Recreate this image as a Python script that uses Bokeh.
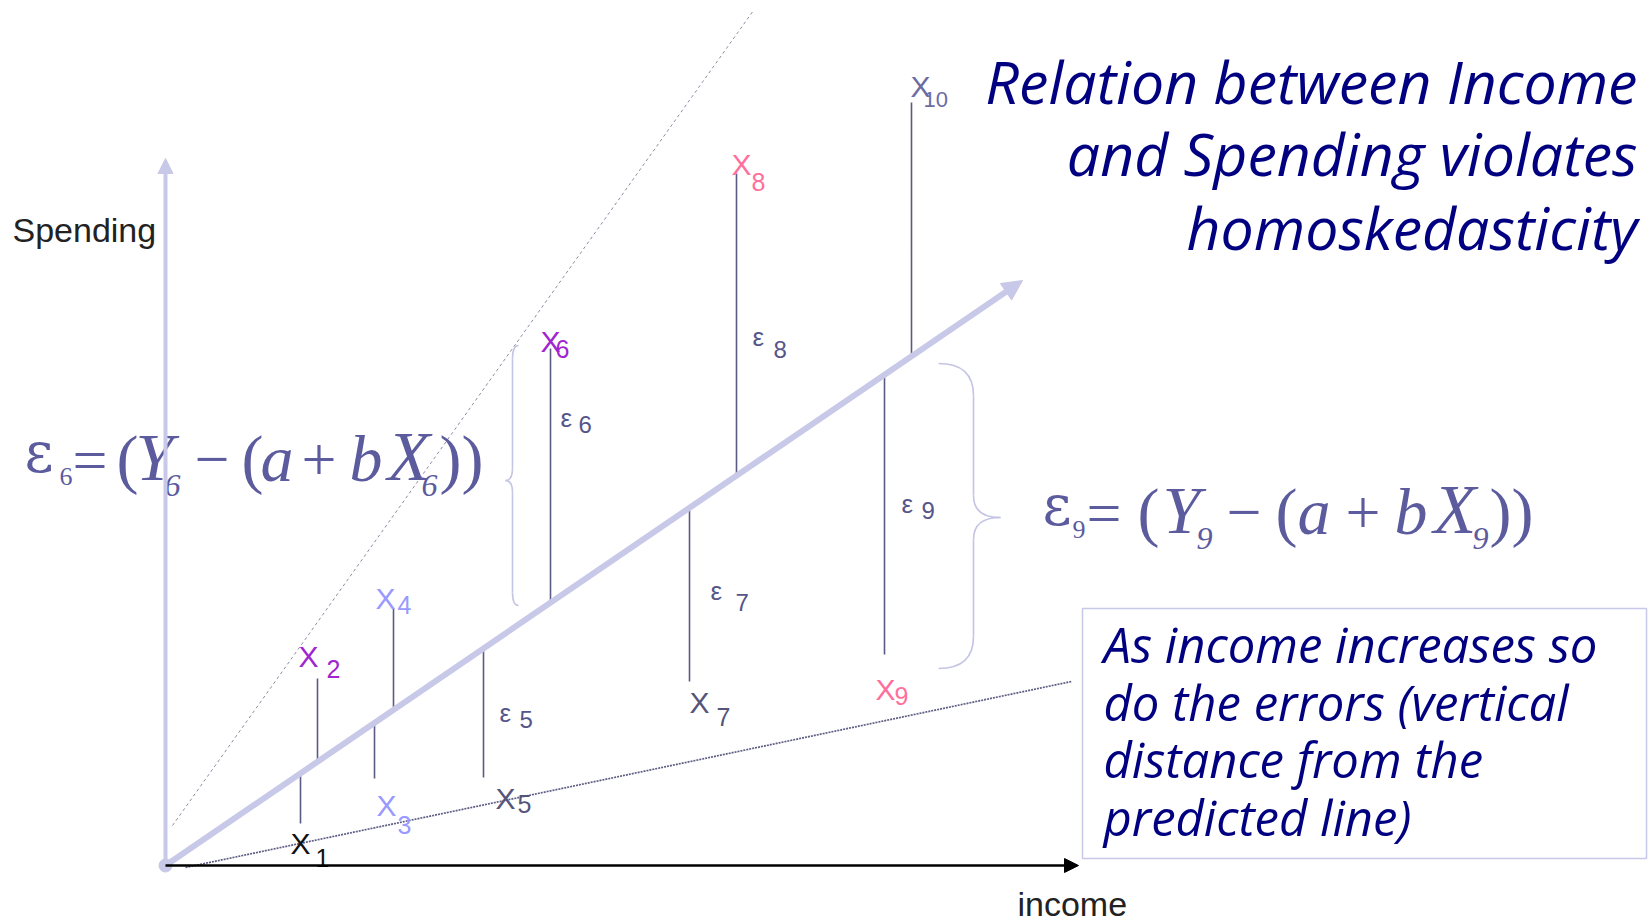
from bokeh.plotting import figure
from bokeh.models import Range1d, Arrow, NormalHead, ColumnDataSource
from bokeh.embed import file_html
from bokeh.resources import INLINE

# ---------------- data (diagram units: income / spending) ----------------
point_labels = ["1", "2", "3", "4", "5", "6", "7", "8", "9", "10"]
income = [135, 152, 209, 228, 318, 385, 524, 571, 719, 746]
spending = [42, 187, 87, 257, 88, 517, 184, 692, 211, 763]
intercept_a = 0.0
slope_b = 0.6826
fit_income_max = 857
upper_env_income = [7, 588]
upper_env_spending = [40, 855]
lower_env_income = [20, 906]
lower_env_spending = [-2, 184]
income_axis_max = 913
spending_axis_max = 707
eps_labels = ["5", "6", "7", "8", "9"]

predicted = [intercept_a + slope_b * v for v in income]

# ---------------- layout helpers (page pixels -> diagram units) ----------------
OX, OY = 165, 865
W, H = 1649, 924


def px(x):
    return x - OX


def py(y):
    return OY - y


p = figure(width=W, height=H, output_backend="svg", toolbar_location=None,
           x_range=Range1d(px(0), px(W)), y_range=Range1d(py(H), py(0)),
           x_axis_type=None, y_axis_type=None, min_border=0)
p.grid.visible = False
p.outline_line_color = None
p.background_fill_color = "white"
p.border_fill_color = "white"

LAV = "#c8c8e8"
SEG = "#5a5a82"

# envelope lines
p.line(upper_env_income, upper_env_spending, line_color="#8c8ca4", line_width=1,
       line_dash="3 3")
p.line(lower_env_income, lower_env_spending, line_color="#5e5e84", line_width=1.7,
       line_dash="2 1")

# regression line with arrow
p.add_layout(Arrow(end=NormalHead(size=20, fill_color=LAV, line_color=LAV),
                   x_start=0, y_start=intercept_a, x_end=fit_income_max,
                   y_end=intercept_a + slope_b * fit_income_max,
                   line_color=LAV, line_width=6))

# axes
p.add_layout(Arrow(end=NormalHead(size=15, fill_color=LAV, line_color=LAV),
                   x_start=0, y_start=0, x_end=0, y_end=spending_axis_max,
                   line_color=LAV, line_width=4))
p.add_layout(Arrow(end=NormalHead(size=14, fill_color="black", line_color="black"),
                   x_start=0, y_start=0, x_end=income_axis_max, y_end=0,
                   line_color="black", line_width=2.5))
p.scatter([0], [0], size=13, color=LAV)

# error segments
p.segment(x0=income, y0=predicted, x1=income, y1=spending, line_color=SEG,
          line_width=1.6)

# braces
BR = "#c4c4e4"
quads = [
    ((518, 345), (512, 358), (512, 345)),
    ((512, 468), (505, 480), (512, 480)),
    ((505, 480), (512, 492), (512, 480)),
    ((512, 592), (518, 605), (512, 605)),
    ((938, 363), (973, 395), (973, 363)),
    ((973, 495), (1000, 517), (973, 517)),
    ((1000, 517), (973, 539), (973, 517)),
    ((973, 636), (938, 668), (973, 668)),
]
p.quadratic(x0=[px(a[0]) for a, b, c in quads], y0=[py(a[1]) for a, b, c in quads],
            x1=[px(b[0]) for a, b, c in quads], y1=[py(b[1]) for a, b, c in quads],
            cx=[px(c[0]) for a, b, c in quads], cy=[py(c[1]) for a, b, c in quads],
            line_color=BR, line_width=1.6)
segs = [((512, 358), (512, 468)), ((512, 492), (512, 592)),
        ((973, 395), (973, 495)), ((973, 539), (973, 636))]
p.segment(x0=[px(a[0]) for a, b in segs], y0=[py(a[1]) for a, b in segs],
          x1=[px(b[0]) for a, b in segs], y1=[py(b[1]) for a, b in segs],
          line_color=BR, line_width=1.6)

# text box
p.quad(left=px(1082), right=px(1646), top=py(608), bottom=py(858),
       fill_color=None, line_color=LAV, line_width=1.5)

# ---------------- texts ----------------
T = dict(x=[], y=[], text=[], size=[], color=[], font=[], style=[], align=[])
# empirical correction of the rendered baseline (fraction of font size)
KSHIFT = {"Liberation Sans": 0.35, "Liberation Serif": 0.40,
          "DejaVu Serif": 0.40, "Open Sans": 0.45}


def put(x, y, s, size, color, font="Liberation Sans", style="normal", align="left"):
    T["x"].append(px(x))
    T["y"].append(py(y - KSHIFT[font] * size))
    T["text"].append(s)
    T["size"].append(f"{size}px")
    T["color"].append(color)
    T["font"].append(font)
    T["style"].append(style)
    T["align"].append(align)


# point labels: (X left, X baseline, sub left, sub baseline)
label_pos = [(290, 853, 315, 866), (298, 666, 326, 677), (376, 815, 397, 833),
             (375, 608, 397, 613), (495, 808, 517, 812), (540, 351, 555, 357),
             (689, 712, 716, 725), (731, 174, 751, 190), (875, 699, 894, 704),
             (910, 96, 923, 107)]
point_colors = ["#111111", "#a024d0", "#9999ff", "#9999ff", "#55557a",
                "#a024d0", "#55557a", "#ff6f9c", "#ff6f9c", "#6c6ca4"]
for lab, (xl, xb, sl, sb), col in zip(point_labels, label_pos, point_colors):
    put(xl, xb, "X", 30, col)
    put(sl, sb, lab, 22 if len(lab) > 1 else 25, col)

# epsilon labels: (eps left, eps baseline, digit left, digit baseline)
eps_pos = [(499, 722, 519, 727), (560, 427, 578, 432), (710, 600, 735, 610),
           (752, 346, 773, 357), (901, 513, 921, 518)]
for lab, (el, eb, dl, db) in zip(eps_labels, eps_pos):
    put(el, eb, "ε", 26, "#55558a")
    put(dl, db, lab, 24, "#55558a")

# axis titles
put(12, 241, "Spending", 34, "#222222")
put(1017, 915, "income", 34, "#222222")

# formulas
FC = "#5b5b9e"
SER = "Liberation Serif"


def formula(base, sub, pos):
    (e, s1, eq, op1, Y, s2, mi, op2, a_, pl, b_, X, s3, cl) = pos
    put(e, base - 10, "ε", 56, FC, "DejaVu Serif")
    put(s1, base + 2, sub, 26, FC, SER)
    put(eq, base, "=", 62, FC, SER)
    put(op1, base, "(", 66, FC, SER)
    put(Y, base, "Y", 68, FC, SER, "italic")
    put(s2, base + 14, sub, 32, FC, SER, "italic")
    put(mi, base, "\u2212", 62, FC, SER)
    put(op2, base, "(", 66, FC, SER)
    put(a_, base, "a", 66, FC, SER, "italic")
    put(pl, base, "+", 62, FC, SER)
    put(b_, base, "b", 66, FC, SER, "italic")
    put(X, base, "X", 70, FC, SER, "italic")
    put(s3, base + 14, sub, 32, FC, SER, "italic")
    put(cl, base, "))", 66, FC, SER)


formula(484, "6", (24, 59, 72, 116, 135, 164, 194, 241, 260, 301, 349, 387, 421, 439))
formula(537, "9", (1042, 1072, 1086, 1137, 1162, 1196, 1226, 1275, 1297, 1345, 1394, 1433, 1472, 1489))

# title & note
NAVY = "#000080"
for s, b in [("Relation between Income", 107), ("and Spending violates", 179),
             ("homoskedasticity", 253)]:
    put(1637, b, s, 59, NAVY, "Open Sans", "italic", "right")
for s, b in [("As income increases so", 666), ("do the errors (vertical", 724),
             ("distance from the", 781), ("predicted line)", 839)]:
    put(1103, b, s, 49, NAVY, "Open Sans", "italic", "left")

src = ColumnDataSource(T)
p.text(x="x", y="y", text="text", source=src, text_font_size="size",
       text_color="color", text_font="font", text_font_style="style",
       text_align="align", text_baseline="alphabetic")

open("out.html", "w").write(file_html(p, INLINE))
